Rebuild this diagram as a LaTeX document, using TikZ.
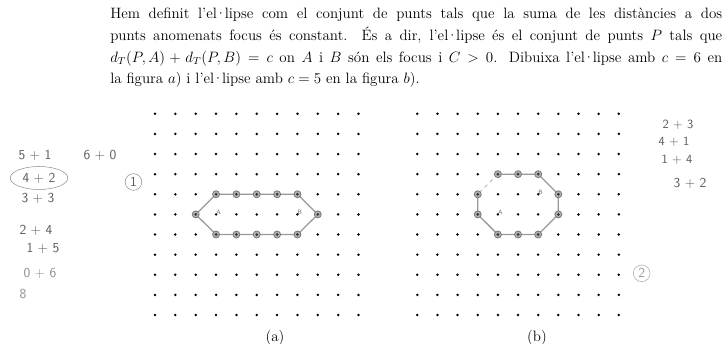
\documentclass[tikz,border=0pt]{standalone}
\usetikzlibrary{calc}
\newcommand{\ela}{el\kern-.12em·\kern-.12em lipse}

\begin{document}
\begin{tikzpicture}[x=0.8pt,y=-0.8pt,
    punt/.style={circle,fill=black,inner sep=0pt,minimum size=2.2pt},
    vertex/.style={circle,draw=black!55,fill=black!30,line width=0.6pt,inner sep=0pt,minimum size=5.6pt,
      path picture={\fill[black!80] (path picture bounding box.center) circle (1.2pt);}},
    corba/.style={black!40,line width=1pt,line join=round},
    llapis/.style={text=black!65,font=\sffamily\fontsize{11}{13}\selectfont,inner sep=0pt},
    focus/.style={text=black!60,font=\sffamily\fontsize{5}{6}\selectfont,inner sep=0pt}]
    \useasboundingbox (0,0) rectangle (728,344);
    % enunciat
    \node[anchor=base west,text width=489.6pt,align=justify,inner sep=0pt,
          font=\fontsize{12}{17.4}\selectfont] (enunciat) at (110,18.7)
      {Hem definit l'\ela{} com el conjunt de punts tals que la suma de les distàncies a dos\linebreak
       punts anomenats focus és constant. És a dir, l'\ela{} és el conjunt de punts $P$ tals que\linebreak
       $d_T(P,A)+d_T(P,B)=c$ on $A$ i $B$ són els focus i $C>0$. Dibuixa l'\ela{} amb $c=6$ en\linebreak
       la figura $a$) i l'\ela{} amb $c=5$ en la figura $b$).};
    % les dues graelles
        \pgfmathsetmacro{\pasa}{20.35}
        \pgfmathsetmacro{\pasb}{20.15}
        \pgfmathsetmacro{\pasy}{20.12}
        \foreach \i in {0,1,...,10}{
          \foreach \j in {0,1,...,10}{
            \node[punt] (a-\i-\j) at ({155+\i*\pasa},{113.8+\j*\pasy}) {};
            \node[punt] (b-\i-\j) at ({417.3+\i*\pasb},{113.8+\j*\pasy}) {};
          }}
    % figura a) c=6
          \draw[corba] (a-3-4.center) -- (a-4-4.center) -- (a-5-4.center) -- (a-6-4.center) -- (a-7-4.center) -- (a-8-5.center) -- (a-7-6.center) -- (a-6-6.center) -- (a-5-6.center) -- (a-4-6.center) -- (a-3-6.center) -- (a-2-5.center) -- cycle;
          \foreach \p in {3-4,4-4,5-4,6-4,7-4,8-5,7-6,6-6,5-6,4-6,3-6,2-5}
            \node[vertex] (va-\p) at (a-\p) {};
          \node[focus,anchor=south west] (fa) at (a-3-5) {A};
          \node[focus,anchor=south west] (fb) at (a-7-5) {B};
    % figura b) c=5
          \draw[corba] (b-3-4.center) -- (b-3-5.center) -- (b-4-6.center) -- (b-5-6.center) -- (b-6-6.center) -- (b-7-5.center) -- (b-7-4.center) -- (b-6-3.center) -- (b-5-3.center) -- (b-4-3.center);
          \draw[corba,black!22,dashed] (b-4-3.center) -- (b-3-4.center);
          \foreach \p in {4-3,5-3,6-3,7-4,7-5,6-6,5-6,4-6,3-5,3-4}
            \node[vertex] (vb-\p) at (b-\p) {};
          \node[focus,anchor=south west] (ga) at (b-4-5) {A};
          \node[focus,anchor=south west] (gb) at (b-6-4) {B};
    % peus
          \node[font=\fontsize{12}{14}\selectfont] (capa) at (275,338) {(a)};
          \node[font=\fontsize{12}{14}\selectfont] (capb) at (537,338) {(b)};
    % notes a llapis
          \node[llapis] (n51) at (35,155) {5 + 1};
          \node[llapis] (n60) at (100,155) {6 + 0};
          \node[llapis] (n42) at (39,178) {4 + 2};
          \draw[black!45,thin] (n42) ellipse (23pt and 9.2pt);
          \node[llapis] (n33) at (38,198) {3 + 3};
          \node[llapis] (n24) at (36,230) {2 + 4};
          \node[llapis] (n15) at (43,248) {1 + 5};
          \node[llapis,text=black!45] (n06) at (40,273) {0 + 6};
          \node[llapis,text=black!45] (n8) at (23,294) {8};
          \node[llapis,draw=black!45,circle,inner sep=1.5pt] (u) at (133.5,182) {1};
          \node[llapis,font=\sffamily\fontsize{10}{12}\selectfont] (m23) at (678,125) {2 + 3};
          \node[llapis,font=\sffamily\fontsize{10}{12}\selectfont] (m41) at (674,142) {4 + 1};
          \node[llapis,font=\sffamily\fontsize{10}{12}\selectfont] (m14) at (677,160) {1 + 4};
          \node[llapis,font=\sffamily\fontsize{11}{13}\selectfont] (m32) at (690,183) {3 + 2};
          \node[llapis,text=black!40,draw=black!35,circle,inner sep=1.5pt] (d) at (641.7,273.3) {2};
\end{tikzpicture}
\end{document}
